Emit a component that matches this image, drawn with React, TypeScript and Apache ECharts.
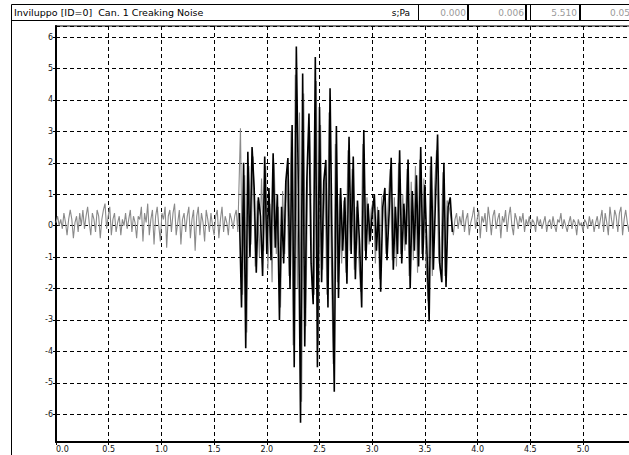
import React, { useEffect, useRef } from "react";
import * as echarts from "echarts";

const TITLE = "Inviluppo [ID=0]  Can. 1 Creaking Noise";
const UNIT = "s;Pa";
const HEADER_VALUES = ["0.000", "0.006", "5.510", "0.05"];

// background signal before the creak (s, Pa)
const PRE_START = 0;
const PRE_STEP = 0.015;
const preNoise = [
  0.1, 0.3, 0.0, 0.2, -0.1, 0.4, 0.1, -0.3, 0.2, 0.5,
  0.2, -0.4, 0.1, 0.3, -0.2, 0.4, 0.0, 0.5, -0.1, 0.3,
  0.6, 0.1, -0.3, 0.4, 0.2, -0.2, 0.5, 0.3, -0.4, 0.2,
  0.5, 0.7, -0.1, 0.3, 0.6, -0.3, 0.2, 0.4, -0.2, 0.1,
  0.3, -0.3, 0.2, 0.0, 0.4, -0.1, 0.2, 0.5, -0.2, 0.3,
  0.1, -0.4, 0.3, 0.2, 0.6, -0.5, 0.4, 0.1, 0.7, -0.3,
  0.2, 0.5, -0.6, 0.3, 0.6, 0.0, -0.5, 0.4, 0.2, 0.6,
  -0.7, 0.3, 0.5, -0.2, 0.4, 0.7, -0.3, 0.1, 0.5, -0.6,
  0.2, 0.4, -0.2, 0.3, 0.6, -0.4, 0.2, 0.5, -0.8, 0.3,
  0.6, -0.3, 0.4, 0.1, -0.5, 0.5, 0.2, -0.2, 0.4, 0.0,
  -0.3, 0.3, 0.5, -0.4, 0.2, 0.6, -0.2, 0.3, 0.1, -0.3,
  0.4, 0.2, -0.1, 0.3, 0.5, -0.2,
];

// background signal during the creak
const MID_START = 1.75;
const MID_STEP = 0.02;
const midGray = [
  3.1, -2.2, 1.6, -3.4, 1.9, -0.6, 2.2, -1.3, 0.8, -1.0,
  1.5, -0.8, 1.9, -1.4, 0.7, -1.8, 2.0, -0.9, 0.6, -2.6,
  1.1, -0.9, 1.8, -1.6, 3.0, -3.8, 4.8, -2.0, 3.6, -5.6,
  4.2, -3.2, 2.4, 3.0, -1.9, -2.2, 4.6, -3.8, 3.2, -1.4,
  1.7, -2.2, 3.6, -0.7, -4.4, 2.6, -1.8, 1.0, -1.2, 0.8,
  -1.5, 2.4, -0.8, 1.8, -1.4, 0.6, -0.9, -2.1, 2.6, -0.8,
  0.9, -0.6, 0.5, 0.8, -1.2, 0.6, -1.7, 0.9, 1.0, -0.9,
  0.6, 1.8, -1.1, 0.9, -1.3, 2.0, -0.9, 1.0, -0.8, 1.8,
  -1.6, 1.4, -1.1, 1.9, -1.5, 2.1, -0.9, 1.5, -1.2, -2.4,
  1.9, -1.6, 1.1, 2.4, -1.0, -1.5, 1.7, -1.6, 0.8, 0.6,
  0.2,
];

// background signal after the creak
const POST_START = 3.77;
const POST_STEP = 0.015;
const postNoise = [
  -0.3, 0.2, 0.4, -0.1, 0.3, 0.0, 0.5, -0.2, 0.2, 0.4,
  -0.3, 0.1, 0.3, 0.6, -0.1, 0.2, 0.5, -0.4, 0.3, 0.1,
  0.4, -0.2, 0.6, 0.2, -0.3, 0.3, 0.5, -0.1, 0.2, 0.4,
  -0.4, 0.3, 0.1, 0.5, -0.2, 0.3, 0.6, 0.0, -0.3, 0.4,
  0.2, -0.1, 0.3, 0.1, 0.4, -0.2, 0.2, 0.0, 0.3, -0.1,
  0.2, 0.1, -0.2, 0.3, 0.0, 0.2, -0.1, 0.1, 0.3, -0.2,
  0.1, 0.2, -0.1, 0.3, 0.0, -0.2, 0.2, 0.1, 0.4, -0.1,
  0.2, 0.0, -0.2, 0.1, 0.3, -0.1, 0.2, 0.1, -0.3, 0.2,
  0.0, 0.1, -0.2, 0.2, 0.1, -0.1, 0.3, 0.0, 0.2, -0.2,
  0.1, 0.3, -0.1, 0.2, 0.5, -0.2, 0.4, 0.1, -0.3, 0.6,
  0.2, -0.1, 0.5, 0.3, -0.2, 0.4, 0.6, -0.3, 0.2, 0.5,
  0.1, -0.2, 0.4,
];

// creaking noise (black trace)
const CREAK_START = 1.74;
const CREAK_STEP = 0.02;
const creakValues = [
  0.4, -2.6, 2.0, -3.9, 2.35, -1.0, 2.5, 1.2, -1.5, 0.9,
  0.3, -1.6, 2.2, -0.9, 1.2, -1.1, 2.3, -0.7, 1.0, -3.0,
  0.6, -1.2, 1.4, 2.15, -2.0, 3.2, -4.5, 5.7, 1.0, -6.27,
  4.84, -3.84, 1.5, 3.57, -1.2, -2.5, 5.36, -4.5, 3.77, -1.8,
  1.4, 2.09, -2.6, 4.37, -1.0, -5.28, 3.17, -2.3, 1.2, -0.8,
  0.9, -1.85, 2.83, -0.9, 2.2, -1.7, 0.8, -0.6, -2.6, 3.04,
  -1.1, 0.7, -0.5, 0.4, 1.0, -0.8, 0.5, -2.1, 0.6, 1.2,
  -1.1, 0.4, 2.16, -1.4, 0.6, -0.9, 2.4, -1.2, 0.7, -0.6,
  2.1, -2.0, 1.1, -0.8, 1.6, -1.3, 2.5, -1.1, 1.3, -0.9,
  -3.05, 2.2, -1.4, 0.8, 2.9, -1.2, -1.8, 2.0, -1.95, 0.6,
  0.9, -0.2,
];

const X_MIN = 0;
const X_MAX = 5.436;
const X_INTERVAL = 0.5;
const Y_MIN = -6.88;
const Y_MAX = 6.35;

function toPairs(values: number[], start: number, step: number) {
  return values.map((v, i) => [+(start + i * step).toFixed(4), v]);
}

export default function App() {
  const ref = useRef<HTMLDivElement>(null);

  useEffect(() => {
    if (!ref.current) return;
    const chart = echarts.init(ref.current, null, { renderer: "svg" });

    const grayData = [
      ...toPairs(preNoise, PRE_START, PRE_STEP),
      ...toPairs(midGray, MID_START, MID_STEP),
      ...toPairs(postNoise, POST_START, POST_STEP),
    ];
    const blackData = toPairs(creakValues, CREAK_START, CREAK_STEP);

    const font = "DejaVu Sans, Liberation Sans, Arial, sans-serif";
    const dash = [4, 3];

    chart.setOption({
      animation: false,
      backgroundColor: "#ffffff",
      grid: { left: 56, top: 26, right: 0, bottom: 13, containLabel: false },
      xAxis: {
        type: "value",
        min: X_MIN,
        max: X_MAX,
        interval: X_INTERVAL,
        axisLine: { show: true, onZero: false, lineStyle: { color: "#000", width: 2 } },
        axisTick: { show: true, length: 3, lineStyle: { color: "#000", width: 1 } },
        axisLabel: {
          fontSize: 8,
          color: "#111",
          fontFamily: font,
          margin: 3,
          showMaxLabel: false,
          alignMinLabel: "left",
          formatter: (v: number) => v.toFixed(1),
        },
        splitLine: { show: true, lineStyle: { color: "#000", width: 1, type: dash } },
      },
      yAxis: {
        type: "value",
        min: Y_MIN,
        max: Y_MAX,
        minInterval: 1,
        maxInterval: 1,
        splitNumber: 13,
        axisLine: { show: true, onZero: false, lineStyle: { color: "#000", width: 2 } },
        axisTick: { show: true, length: 3, lineStyle: { color: "#000", width: 1 } },
        axisLabel: {
          fontSize: 8,
          color: "#111",
          fontFamily: font,
          margin: 3,
          showMinLabel: false,
          showMaxLabel: false,
          formatter: (v: number) =>
            Math.abs(v - Math.round(v)) < 1e-6 ? String(Math.round(v)) : "",
        },
        splitLine: { show: true, lineStyle: { color: "#000", width: 1, type: dash } },
      },
      series: [
        {
          type: "line",
          data: grayData,
          showSymbol: false,
          silent: true,
          z: 2,
          lineStyle: { color: "#8a8a8a", width: 1.1 },
        },
        {
          type: "line",
          data: blackData,
          showSymbol: false,
          silent: true,
          z: 3,
          lineStyle: { color: "#000000", width: 1.6 },
        },
      ],
      graphic: [
        {
          type: "rect",
          shape: { x: 11.5, y: 4.5, width: 700, height: 500 },
          style: { fill: "none", stroke: "#000", lineWidth: 1 },
          silent: true,
          z: 10,
        },
        {
          type: "line",
          shape: { x1: 11, y1: 20.5, x2: 629, y2: 20.5 },
          style: { stroke: "#000", lineWidth: 1 },
          z: 10,
        },
        {
          type: "line",
          shape: { x1: 55, y1: 26, x2: 629, y2: 26 },
          style: { stroke: "#000", lineWidth: 1 },
          z: 10,
        },
        {
          type: "text",
          x: 14,
          y: 12.5,
          style: {
            text: TITLE,
            fontSize: 9.5,
            fontFamily: font,
            fill: "#000",
            verticalAlign: "middle",
            align: "left",
          },
          z: 10,
        },
        {
          type: "text",
          x: 410,
          y: 12.5,
          style: {
            text: UNIT,
            fontSize: 9,
            fontFamily: font,
            fill: "#000",
            verticalAlign: "middle",
            align: "right",
          },
          z: 10,
        },
        { type: "line", shape: { x1: 418.5, y1: 5, x2: 418.5, y2: 20 }, style: { stroke: "#000", lineWidth: 1 }, z: 10 },
        { type: "line", shape: { x1: 468, y1: 5, x2: 468, y2: 20 }, style: { stroke: "#000", lineWidth: 2 }, z: 10 },
        { type: "line", shape: { x1: 526, y1: 5, x2: 526, y2: 20 }, style: { stroke: "#000", lineWidth: 2 }, z: 10 },
        { type: "line", shape: { x1: 530.5, y1: 5, x2: 530.5, y2: 20 }, style: { stroke: "#000", lineWidth: 1 }, z: 10 },
        { type: "line", shape: { x1: 580, y1: 5, x2: 580, y2: 20 }, style: { stroke: "#000", lineWidth: 2 }, z: 10 },
        ...HEADER_VALUES.map((t, i) => ({
          type: "text",
          x: [466, 524, 577, 610][i],
          y: 12.5,
          style: {
            text: t,
            fontSize: 9,
            fontFamily: font,
            fill: "#9a9a9a",
            verticalAlign: "middle",
            align: i === 3 ? "left" : "right",
          },
          z: 10,
        })),
      ],
    });

    return () => chart.dispose();
  }, []);

  return (
    <div
      ref={ref}
      style={{ position: "fixed", left: 0, top: 0, width: 629, height: 455, background: "#fff" }}
    />
  );
}
